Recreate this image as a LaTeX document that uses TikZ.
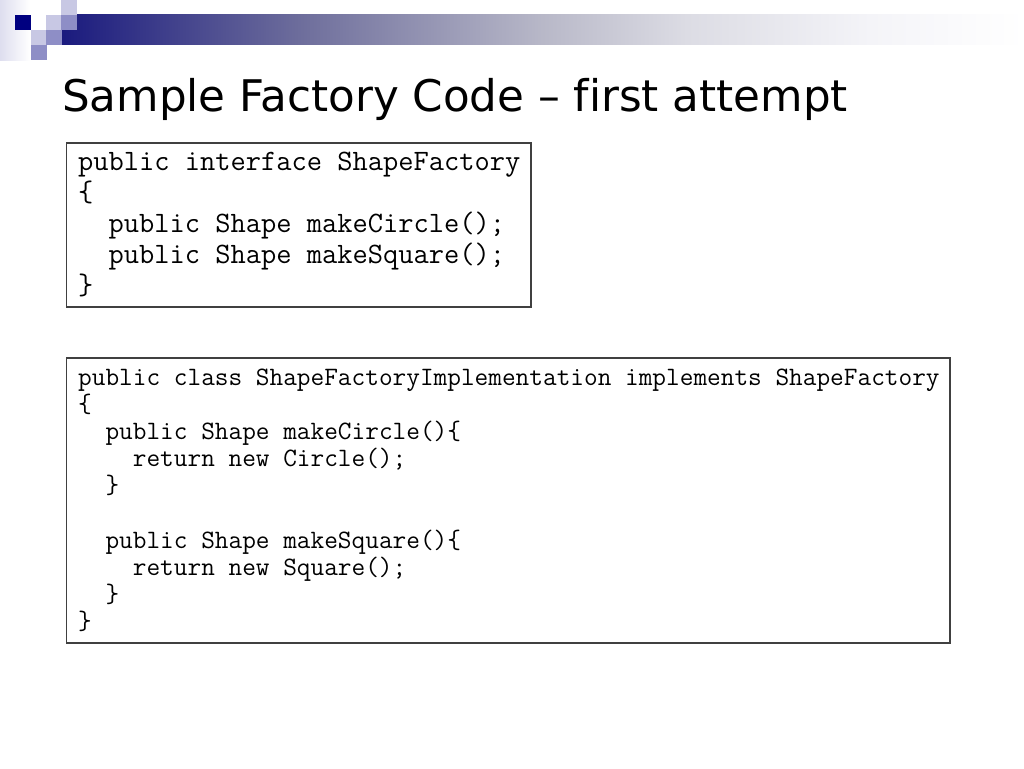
\documentclass[tikz,border=0pt]{standalone}
\usepackage{fontspec}
\setmainfont{DejaVu Sans}
\definecolor{navy}{HTML}{000080}
\definecolor{barnavy}{HTML}{1A1A7E}
\definecolor{barA}{HTML}{6E6E9C}
\definecolor{barB}{HTML}{B8B8C8}
\definecolor{barC}{HTML}{DCDCE4}
\definecolor{barD}{HTML}{F4F4F8}
\definecolor{medsq}{HTML}{8E8EC6}
\definecolor{lightsq}{HTML}{C8C8E4}
\definecolor{boxline}{HTML}{404040}
\pgfdeclarehorizontalshading{barshade}{100bp}{color(0bp)=(barnavy); color(25bp)=(barnavy); color(37.5bp)=(barA); color(50bp)=(barB); color(57.5bp)=(barC); color(67bp)=(barD); color(75bp)=(white); color(100bp)=(white)}
\begin{document}
\begin{tikzpicture}[x=1pt,y=-1pt,
  sq/.style={minimum width=15.5pt,minimum height=15pt,inner sep=0pt,outer sep=0pt,anchor=north west},
  codeA/.style={anchor=base west,inner sep=0pt,font=\ttfamily\fontsize{29.6}{32}\selectfont},
  codeB/.style={anchor=base west,inner sep=0pt,font=\ttfamily\fontsize{26.55}{29}\selectfont},
  codebox/.style={draw=boxline,line width=1.2pt,fill=white}]
\useasboundingbox[fill=white] (0,0) rectangle (1024,768);
% header decoration
\shade[left color=lightsq!60,right color=white] (0,0) rectangle (30,60);
\shade[shading=barshade] (61,15) rectangle (1024,45);
\node[sq,fill=lightsq] (s1) at (61,0) {};
\node[sq,fill=navy] (s2) at (15,15) {};
\node[sq,fill=lightsq] (s3) at (46,15) {};
\node[sq,fill=medsq] (s4) at (61,15) {};
\node[sq,fill=lightsq] (s5) at (31,30) {};
\node[sq,fill=medsq] (s6) at (46,30) {};
\node[sq,fill=medsq] (s7) at (31,45) {};
% title
\node[anchor=base west,inner sep=0pt,font=\fontsize{43.6}{48}\selectfont] (title) at (62,111.5) {Sample Factory Code – f\kern0pt irst attempt};
% box 1
\draw[codebox] (66.5,143) rectangle (531,307);
\node[codeA] (a1) at (78,170) {public interface ShapeFactory};
\node[codeA] (a2) at (78,201) {\{};
\node[codeA] (a3) at (78,232) {\ \ public Shape makeCircle();};
\node[codeA] (a4) at (78,263) {\ \ public Shape makeSquare();};
\node[codeA] (a5) at (78,294) {\}};
% box 2
\draw[codebox] (66.5,358) rectangle (950,643);
\node[codeB] (b1) at (78,385) {public class ShapeFactoryImplementation implements ShapeFactory};
\node[codeB] (b2) at (78,412.2) {\{};
\node[codeB] (b3) at (78,439.4) {\ \ public Shape makeCircle()\{};
\node[codeB] (b4) at (78,466.6) {\ \ \ \ return new Circle();};
\node[codeB] (b5) at (78,493.8) {\ \ \}};
\node[codeB] (b7) at (78,548.2) {\ \ public Shape makeSquare()\{};
\node[codeB] (b8) at (78,575.4) {\ \ \ \ return new Square();};
\node[codeB] (b9) at (78,602.6) {\ \ \}};
\node[codeB] (b10) at (78,629.8) {\}};
\end{tikzpicture}
\end{document}
